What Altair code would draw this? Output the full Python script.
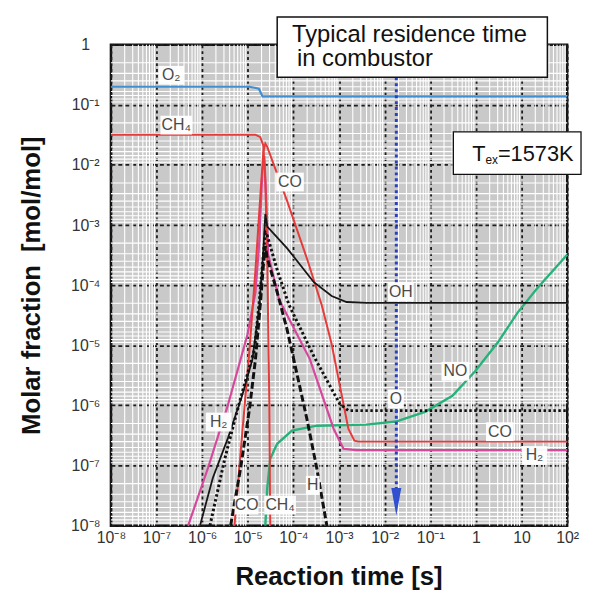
import altair as alt
import pandas as pd

# ---------------- data ----------------
O2_t = [1e-8, 1.09e-5, 1.5e-5, 1.75e-5, 2.1e-5, 100]
O2_c = [0.2, 0.2, 0.19, 0.185, 0.138, 0.138]

CH4_t = [1e-8, 1.47e-5, 1.88e-5, 2.19e-5, 2.42e-5, 2.67e-5, 2.96e-5, 3.1e-5]
CH4_c = [0.0318, 0.0318, 0.029, 0.021, 5.4e-3, 2.6e-4, 1.3e-6, 1e-8]

CO_t = [5.1e-6, 7.7e-6, 1.09e-5, 1.47e-5, 1.88e-5, 2.19e-5, 2.42e-5, 2.67e-5, 7.3e-5,
        1.97e-4, 4.17e-4, 6.9e-4, 1.13e-3, 1.6e-3, 2.17e-3, 2.65e-3, 100]
CO_c = [1e-8, 4.1e-7, 8.5e-6, 1.77e-4, 3.0e-3, 0.0167, 0.0226, 0.020, 2.5e-3,
        2.8e-4, 4.7e-5, 1.04e-5, 1.56e-6, 4.1e-7, 2.6e-7, 2.5e-7, 2.5e-7]

H2_t = [4.92e-7, 1.34e-6, 3.63e-6, 9.8e-6, 1.47e-5, 1.8e-5, 2.08e-5, 2.3e-5, 2.55e-5,
        2.81e-5, 4.88e-5, 2.29e-4, 7.6e-4, 1.25e-3, 2.4e-3, 100]
H2_c = [1e-8, 9.1e-8, 9.9e-7, 1.5e-5, 7.5e-5, 5.6e-4, 7.9e-3, 0.014, 2.5e-3,
        3.2e-4, 5.7e-5, 5.9e-6, 4.1e-7, 1.9e-7, 1.8e-7, 1.8e-7]

OH_t = [8.95e-7, 1.71e-6, 3.63e-6, 7.7e-6, 1.26e-5, 1.8e-5, 2.19e-5, 2.42e-5, 2.67e-5,
        7.3e-5, 2.8e-4, 6.9e-4, 1.46e-3, 3.95e-3, 100]
OH_c = [1e-8, 6.2e-8, 2.8e-7, 1.55e-6, 5.8e-6, 4.7e-5, 3.8e-4, 1.53e-3, 9.4e-4,
        4.1e-4, 1.12e-4, 6.6e-5, 5.25e-5, 5.06e-5, 5.06e-5]

O_t = [1.48e-6, 3.13e-6, 6.0e-6, 9.8e-6, 1.4e-5, 1.8e-5, 2.19e-5, 2.42e-5, 2.67e-5,
       4.4e-5, 8.0e-5, 2.8e-4, 1.03e-3, 1.6e-3, 100]
O_c = [1e-8, 1.3e-7, 8.8e-7, 3.3e-6, 8.5e-6, 5.7e-5, 3.1e-4, 7.5e-4, 6.7e-4,
       1.8e-4, 4.7e-5, 6.6e-6, 1.07e-6, 8.2e-7, 8.2e-7]

H_t = [4.2e-6, 6.95e-6, 1.09e-5, 1.47e-5, 1.88e-5, 2.19e-5, 2.42e-5, 2.67e-5, 4.4e-5,
       7.3e-5, 1.2e-4, 1.97e-4, 3.25e-4, 5.4e-4]
H_c = [1e-8, 9.0e-8, 8.8e-7, 5.8e-6, 4.7e-5, 2.1e-4, 4.5e-4, 2.8e-4, 7.7e-5,
       1.8e-5, 3.3e-6, 6.0e-7, 9.0e-8, 1e-8]

NO_t = [2.42e-5, 2.67e-5, 3.1e-5, 4.4e-5, 9.3e-5, 3.25e-4, 3.95e-3, 0.0177, 0.079,
        0.305, 0.96, 3.03, 8.2, 22.3, 100]
NO_c = [1e-8, 4.2e-8, 1.3e-7, 2.3e-7, 3.8e-7, 4.6e-7, 4.8e-7, 5.4e-7, 7.9e-7,
        1.45e-6, 3.7e-6, 1.12e-5, 3.5e-5, 9.0e-5, 3.2e-4]

# species labels
LAB_TXT = ['O\u2082', 'CH\u2084', 'CO', 'OH', 'NO', 'O', 'CO', 'H\u2082', 'H\u2082', 'CO', 'CH\u2084', 'H']
LAB_T = [2.1e-7, 2.7e-7, 8.4e-5, 0.0227, 0.354, 0.0177, 3.35, 19.2, 2.3e-6, 9.4e-6, 5.1e-5, 2.66e-4]
LAB_C = [0.31, 0.046, 5.2e-3, 7.7e-5, 3.7e-6, 1.28e-6, 3.66e-7, 1.47e-7, 5.3e-7, 2.2e-8, 2.2e-8, 4.7e-8]
LAB_HW = [13, 16, 14, 13, 14, 8, 14, 13, 13, 12, 16, 7]   # half width of white box, px

RES_TIME = 0.018          # typical residence time marker
ARROW_TOP, ARROW_END, ARROW_HEAD = 0.286, 3.5e-8, 2.5e-8

X_TICKS = [10.0 ** n for n in range(-8, 3)]
Y_TICKS = [10.0 ** n for n in range(-8, 1)]
X_LABELS = ['10\u207b\u2078', '10\u207b\u2077', '10\u207b\u2076', '10\u207b\u2075', '10\u207b\u2074',
            '10\u207b\u00b3', '10\u207b\u00b2', '10\u207b\u00b9', '1', '10', '10\u00b2']
Y_LABELS = ['10\u207b\u2078', '10\u207b\u2077', '10\u207b\u2076', '10\u207b\u2075', '10\u207b\u2074',
            '10\u207b\u00b3', '10\u207b\u00b2', '10\u207b\u00b9', '1']

# ---------------- chart ----------------
W, H = 461, 486
FONT = 'Liberation Sans'
xs = alt.Scale(type='log', domain=[1e-8, 100], nice=False)
ys = alt.Scale(type='log', domain=[1e-8, 1], nice=False)


def lab_expr(labels):
    arr = ','.join("'" + s + "'" for s in labels)
    return '[' + arr + '][round(log(datum.value)/LN10)+8]'


x_axis = alt.Axis(values=X_TICKS, labelExpr=lab_expr(X_LABELS), title='Reaction time [s]',
                  grid=True, gridColor='#1c1c1c', gridDash=[3, 3], gridWidth=1.8,
                  domain=False, ticks=False, tickSize=0, labelFlush=False, labelOverlap=False,
                  labelFont=FONT, labelFontSize=16, labelColor='#333', labelPadding=4,
                  titleFont=FONT, titleFontSize=26, titleFontWeight='bold', titleColor='#111',
                  titleX=230, titleY=51, titleBaseline='middle', titleAlign='center')
y_axis = alt.Axis(values=Y_TICKS, labelExpr=lab_expr(Y_LABELS), title='Molar fraction\u2002[mol/mol]',
                  grid=True, gridColor='#1c1c1c', gridDash=[4, 3], gridWidth=1.8,
                  domain=False, ticks=False, tickSize=0, labelFlush=False, labelOverlap=False,
                  labelFont=FONT, labelFontSize=16, labelColor='#333', labelPadding=26,
                  labelAlign='center', labelBaseline='middle',
                  titleFont=FONT, titleFontSize=26, titleFontWeight='bold', titleColor='#111',
                  titleX=-80, titleY=243, titleBaseline='middle', titleAlign='center')


def XE(f):
    return alt.X(f, scale=xs, axis=x_axis)


def YE(f):
    return alt.Y(f, scale=ys, axis=y_axis)


# graph-paper minor lines
vminor = pd.DataFrame({'t': [k * 10.0 ** n for n in range(-8, 2) for k in range(2, 10)]})
hminor = pd.DataFrame({'c': [10.0 ** (n + 1) / k for n in range(-8, 0) for k in range(2, 10)]})

grid_v = alt.Chart(vminor).mark_rule(color='white', strokeWidth=1.1).encode(x=XE('t:Q'))
grid_h = alt.Chart(hminor).mark_rule(color='white', strokeWidth=1.1).encode(y=YE('c:Q'))

series = [
    ('O2', O2_t, O2_c, dict(color='#3f8fd2', strokeWidth=2.2)),
    ('NO', NO_t, NO_c, dict(color='#27b27a', strokeWidth=2.4)),
    ('H2', H2_t, H2_c, dict(color='#d6489c', strokeWidth=2.2)),
    ('CH4', CH4_t, CH4_c, dict(color='#e63b3b', strokeWidth=2)),
    ('CO', CO_t, CO_c, dict(color='#e63b3b', strokeWidth=2)),
    ('OH', OH_t, OH_c, dict(color='#161616', strokeWidth=1.8)),
    ('O', O_t, O_c, dict(color='#111111', strokeWidth=3, strokeDash=[2.5, 2.5])),
    ('H', H_t, H_c, dict(color='#111111', strokeWidth=3, strokeDash=[7, 3])),
]
line_layers = []
for name, tt, cc, st in series:
    df = pd.DataFrame({'t': tt, 'c': cc, 'i': list(range(len(tt)))})
    line_layers.append(
        alt.Chart(df).mark_line(**st).encode(x=XE('t:Q'), y=YE('c:Q'), order='i:Q'))

arrow_df = pd.DataFrame({'t': [RES_TIME], 'c': [ARROW_TOP], 'c2': [ARROW_END], 'ch': [ARROW_HEAD]})
arrow_line = alt.Chart(arrow_df).mark_rule(color='#2a40c4', strokeWidth=3, strokeDash=[3, 3]).encode(
    x=XE('t:Q'), y=YE('c:Q'), y2='c2:Q')
arrow_head = alt.Chart(arrow_df).mark_point(shape='M-0.36,-1L0.36,-1L0,1Z', filled=True, size=780,
                                            color='#3050d0', opacity=1).encode(
    x=XE('t:Q'), y=YE('ch:Q'))

DX, DY = 10 / W, 8 / H
lab_df = pd.DataFrame({
    'txt': LAB_TXT, 't': LAB_T, 'c': LAB_C,
    'x1': [t * 10 ** (-hw * DX) for t, hw in zip(LAB_T, LAB_HW)],
    'x2': [t * 10 ** (hw * DX) for t, hw in zip(LAB_T, LAB_HW)],
    'y1': [c * 10 ** (-9.5 * DY) for c in LAB_C],
    'y2': [c * 10 ** (9.5 * DY) for c in LAB_C],
})
lab_box = alt.Chart(lab_df).mark_rect(fill='white', opacity=0.95).encode(
    x=XE('x1:Q'), x2='x2:Q', y=YE('y1:Q'), y2='y2:Q')
lab_txt = alt.Chart(lab_df).mark_text(font=FONT, fontSize=16, color='#4a4a4a', align='center',
                                      baseline='middle').encode(
    x=XE('t:Q'), y=YE('c:Q'), text='txt:N')

one = pd.DataFrame({'a': [0]})
res_box = alt.Chart(one).mark_rect(fill='white', stroke='#111', strokeWidth=1.5).encode(
    x=alt.value(168), x2=alt.value(441), y=alt.value(-28), y2=alt.value(33))
res_t1 = alt.Chart(one).mark_text(text='Typical residence time', font=FONT, fontSize=24, color='#111',
                                  align='left', baseline='alphabetic').encode(x=alt.value(183), y=alt.value(-3))
res_t2 = alt.Chart(one).mark_text(text='in combustor', font=FONT, fontSize=24, color='#111',
                                  align='left', baseline='alphabetic').encode(x=alt.value(188), y=alt.value(22))

tex_box = alt.Chart(one).mark_rect(fill='white', stroke='#111', strokeWidth=1.3).encode(
    x=alt.value(346), x2=alt.value(475), y=alt.value(88), y2=alt.value(131))
tex_T = alt.Chart(one).mark_text(text='T', font=FONT, fontSize=22, color='#111', align='left',
                                 baseline='alphabetic').encode(x=alt.value(365), y=alt.value(118))
tex_ex = alt.Chart(one).mark_text(text='ex', font=FONT, fontSize=12, color='#111', align='left',
                                  baseline='alphabetic').encode(x=alt.value(378.5), y=alt.value(121))
tex_v = alt.Chart(one).mark_text(text='=1573K', font=FONT, fontSize=22, color='#111', align='left',
                                 baseline='alphabetic').encode(x=alt.value(391), y=alt.value(118))

chart = alt.layer(
    grid_v, grid_h, *line_layers, arrow_line, arrow_head, lab_box, lab_txt,
    res_box, res_t1, res_t2, tex_box, tex_T, tex_ex, tex_v
).properties(
    width=W, height=H,
    autosize=alt.AutoSizeParams(type='none'),
    padding={'left': 104, 'top': 34, 'right': 16, 'bottom': 70},
    background='white'
).configure_view(
    fill='#c9c9c9', stroke='#111', strokeWidth=2.5
)

chart.save('out.html', embed_options={'renderer': 'svg', 'actions': False})
